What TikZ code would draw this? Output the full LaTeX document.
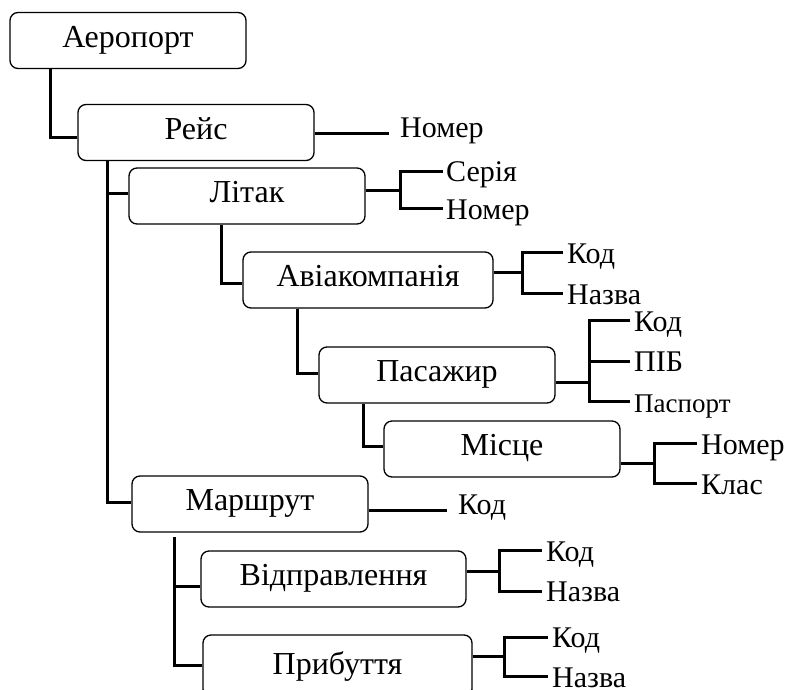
\documentclass[tikz,border=0pt]{standalone}
\usepackage{fontspec}
\setmainfont{Liberation Serif}
\begin{document}
\begin{tikzpicture}[x=1pt,y=-1pt,
  box/.style={draw, line width=1.3pt, rounded corners=8pt, minimum width=#1,
    minimum height=56pt, inner sep=0pt, text height=13pt, text depth=0pt,
    font=\fontsize{32}{34}\selectfont},
  conn/.style={line width=3pt},
  lab/.style={anchor=west, inner sep=0pt, text height=21pt, text depth=0pt,
    font=\fontsize{30}{32}\selectfont},
  smalllab/.style={lab, font=\fontsize{27}{28}\selectfont},
  blab/.style={anchor=base west, inner sep=0pt, font=\fontsize{30}{32}\selectfont}]
\useasboundingbox (0,0) rectangle (785,689);
\clip (0,0) rectangle (785,689);
% boxes
\node[box=236pt] (aero) at (128,40.5) {Аеропорт};
\node[box=236pt] (reys) at (196,132.5) {Рейс};
\node[box=236pt] (litak) at (247,196) {Літак};
\node[box=250pt] (avia) at (368,280) {Авіакомпанія};
\node[box=236pt] (pas) at (437,375) {Пасажир};
\node[box=236pt] (misc) at (502,449) {Місце};
\node[box=236pt] (marsh) at (250,504) {Маршрут};
\node[box=265pt] (vidp) at (333.5,579) {Відправлення};
\node[box=269pt, minimum height=62pt, text height=16pt] (prib) at (337.5,666) {Прибуття};
% tree connectors
\coordinate (c1) at (50,137);
\draw[conn] (aero.south -| c1) -- (c1) -- (reys.west |- c1);
\coordinate (t1) at (107,502);
\coordinate (t1a) at (107,193);
\draw[conn] (reys.south -| t1) -- (t1) -- (marsh.west |- t1);
\draw[conn] (t1a) -- (litak.west |- t1a);
\coordinate (c2) at (221,283);
\draw[conn] (litak.south -| c2) -- (c2) -- (avia.west |- c2);
\coordinate (c3) at (297,373);
\draw[conn] (avia.south -| c3) -- (c3) -- (pas.west |- c3);
\coordinate (c4) at (363,446);
\draw[conn] (pas.south -| c4) -- (c4) -- (misc.west |- c4);
\coordinate (t2s) at (174,537);
\coordinate (t2a) at (174,586);
\coordinate (t2) at (174,665);
\draw[conn] (t2s) -- (t2) -- (prib.west |- t2);
\draw[conn] (t2a) -- (vidp.west |- t2a);
% labels
\node[blab] (reysN) at (400,137.5) {Номер};
\coordinate (rl) at (389,133);
\draw[conn] (reys.east |- rl) -- (rl);

\node[lab] (litS) at (446,171) {Серія};
\node[lab] (litN) at (446,208.5) {Номер};
\coordinate (bl) at (400,190);
\draw[conn] (litak.east |- bl) -- (bl);
\draw[conn] ([xshift=-3pt]litS.west) -- (litS.west -| bl) -- (litN.west -| bl) -- ([xshift=-3pt]litN.west);

\node[lab] (avK) at (567,252.5) {Код};
\node[lab] (avN) at (567,293.5) {Назва};
\coordinate (ba) at (522,272);
\draw[conn] (avia.east |- ba) -- (ba);
\draw[conn] ([xshift=-4pt]avK.west) -- (avK.west -| ba) -- (avN.west -| ba) -- ([xshift=-4pt]avN.west);

\node[lab] (pK) at (634,320.5) {Код};
\node[lab] (pP) at (634,361) {ПІБ};
\node[smalllab] (pS) at (634,401.5) {Паспорт};
\coordinate (bp) at (589,382);
\draw[conn] (pas.east |- bp) -- (bp);
\draw[conn] ([xshift=-4pt]pK.west) -- (pK.west -| bp) -- (pS.west -| bp) -- ([xshift=-4pt]pS.west);
\draw[conn] (pP.west -| bp) -- ([xshift=-4pt]pP.west);

\node[lab] (mN) at (701,443.5) {Номер};
\node[lab] (mK) at (701,483.5) {Клас};
\coordinate (bm) at (654,463);
\draw[conn] (misc.east |- bm) -- (bm);
\draw[conn] ([xshift=-4pt]mN.west) -- (mN.west -| bm) -- (mK.west -| bm) -- ([xshift=-4pt]mK.west);

\node[blab] (maK) at (458,514) {Код};
\coordinate (ml) at (447,510);
\draw[conn] (marsh.east |- ml) -- (ml);

\node[lab] (vK) at (546,550.5) {Код};
\node[lab] (vN) at (546,591) {Назва};
\coordinate (bv) at (499,571);
\draw[conn] (vidp.east |- bv) -- (bv);
\draw[conn] ([xshift=-4pt]vK.west) -- (vK.west -| bv) -- (vN.west -| bv) -- ([xshift=-4pt]vN.west);

\node[lab] (prK) at (552,637) {Код};
\node[lab] (prN) at (552,676.5) {Назва};
\coordinate (bpr) at (504,656);
\draw[conn] (prib.east |- bpr) -- (bpr);
\draw[conn] ([xshift=-4pt]prK.west) -- (prK.west -| bpr) -- (prN.west -| bpr) -- ([xshift=-4pt]prN.west);
\end{tikzpicture}
\end{document}
